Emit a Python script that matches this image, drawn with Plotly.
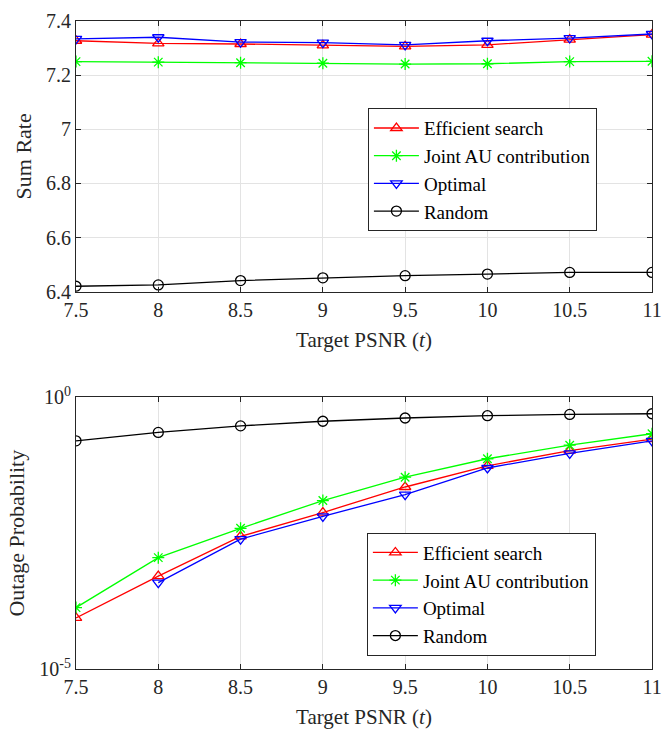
import plotly.graph_objects as go
from plotly.subplots import make_subplots

psnr = [7.5, 8, 8.5, 9, 9.5, 10, 10.5, 11]

# Sum rate (top)
rate_efficient = [7.327, 7.317, 7.315, 7.310, 7.306, 7.312, 7.331, 7.350]
rate_joint = [7.250, 7.248, 7.246, 7.244, 7.241, 7.242, 7.250, 7.251]
rate_optimal = [7.334, 7.340, 7.322, 7.320, 7.312, 7.327, 7.337, 7.352]
rate_random = [6.420, 6.425, 6.441, 6.451, 6.459, 6.465, 6.471, 6.471]

# Outage probability (bottom)
out_efficient = [10**-4.06, 10**-3.29, 10**-2.56, 10**-2.12, 10**-1.65, 10**-1.26, 10**-0.98, 10**-0.77]
out_joint = [10**-3.87, 10**-2.95, 10**-2.41, 10**-1.90, 10**-1.47, 10**-1.13, 10**-0.88, 10**-0.67]
out_optimal = [None, 10**-3.41, 10**-2.61, 10**-2.19, 10**-1.79, 10**-1.30, 10**-1.03, 10**-0.80]
out_random = [10**-0.80, 10**-0.645, 10**-0.525, 10**-0.44, 10**-0.38, 10**-0.338, 10**-0.314, 10**-0.302]

names = ["Efficient search", "Joint AU contribution", "Optimal", "Random"]
colors = ["#ff0000", "#00ff00", "#0000ff", "#000000"]
symbols = ["triangle-up-open", "asterisk-open", "triangle-down-open", "circle-open"]

FONT = "'Liberation Serif', 'Times New Roman', Times, serif"
AX = "#262626"

fig = make_subplots(rows=2, cols=1, vertical_spacing=0.0)

top_series = [rate_efficient, rate_joint, rate_optimal, rate_random]
bot_series = [out_efficient, out_joint, out_optimal, out_random]

for i in range(4):
    fig.add_trace(go.Scatter(
        x=psnr, y=top_series[i], name=names[i], mode="lines+markers",
        line=dict(color=colors[i], width=1.3),
        marker=dict(symbol=symbols[i], size=10, color=colors[i], line=dict(color=colors[i], width=1.3)),
        legend="legend",
    ), row=1, col=1)

for i in range(4):
    fig.add_trace(go.Scatter(
        x=psnr, y=bot_series[i], name=names[i], mode="lines+markers",
        line=dict(color=colors[i], width=1.3),
        marker=dict(symbol=symbols[i], size=10, color=colors[i], line=dict(color=colors[i], width=1.3)),
        legend="legend2", connectgaps=False,
    ), row=2, col=1)

axis_common = dict(
    showline=True, linecolor=AX, linewidth=1, mirror="ticks",
    ticks="inside", ticklen=5, tickcolor=AX,
    gridcolor="#e3e3e3", gridwidth=1, zeroline=False,
    tickfont=dict(family=FONT, size=20, color=AX),
    ticklabeloverflow="allow",
)

xcommon = dict(axis_common, range=[7.5, 11], dtick=0.5, tick0=7.5, showgrid=True,
               title=dict(text="Target PSNR (<i>t</i>)", font=dict(family=FONT, size=21, color=AX), standoff=12))

fig.update_xaxes(**xcommon, row=1, col=1)
fig.update_xaxes(**xcommon, row=2, col=1)

fig.update_yaxes(**axis_common, range=[6.4, 7.4], dtick=0.2, showgrid=True,
                 title=dict(text="Sum Rate", font=dict(family=FONT, size=22, color=AX), standoff=8),
                 row=1, col=1)
fig.update_yaxes(**axis_common, type="log", range=[-5, 0], tickvals=[1e-5, 1],
                 ticktext=["10<sup>-5</sup>", "10<sup>0</sup>"], showgrid=False,
                 title=dict(text="Outage Probability", font=dict(family=FONT, size=22, color=AX), standoff=8),
                 row=2, col=1)

legend_common = dict(xanchor="left", yanchor="top",
                     bgcolor="white", bordercolor=AX, borderwidth=1,
                     font=dict(family=FONT, size=19, color="#000000"),
                     tracegroupgap=0, itemwidth=45)

fig.update_layout(
    width=670, height=734,
    margin=dict(l=76, r=8, t=13, b=65),
    plot_bgcolor="white", paper_bgcolor="white",
    font=dict(family=FONT, size=20, color=AX),
    yaxis=dict(domain=[0.5823, 1.0]),
    yaxis2=dict(domain=[0.0, 0.4192]),
    legend=dict(legend_common, x=0.5068, y=0.8655),
    legend2=dict(legend_common, x=0.505, y=0.2105),
)

fig.write_html("out.html")
